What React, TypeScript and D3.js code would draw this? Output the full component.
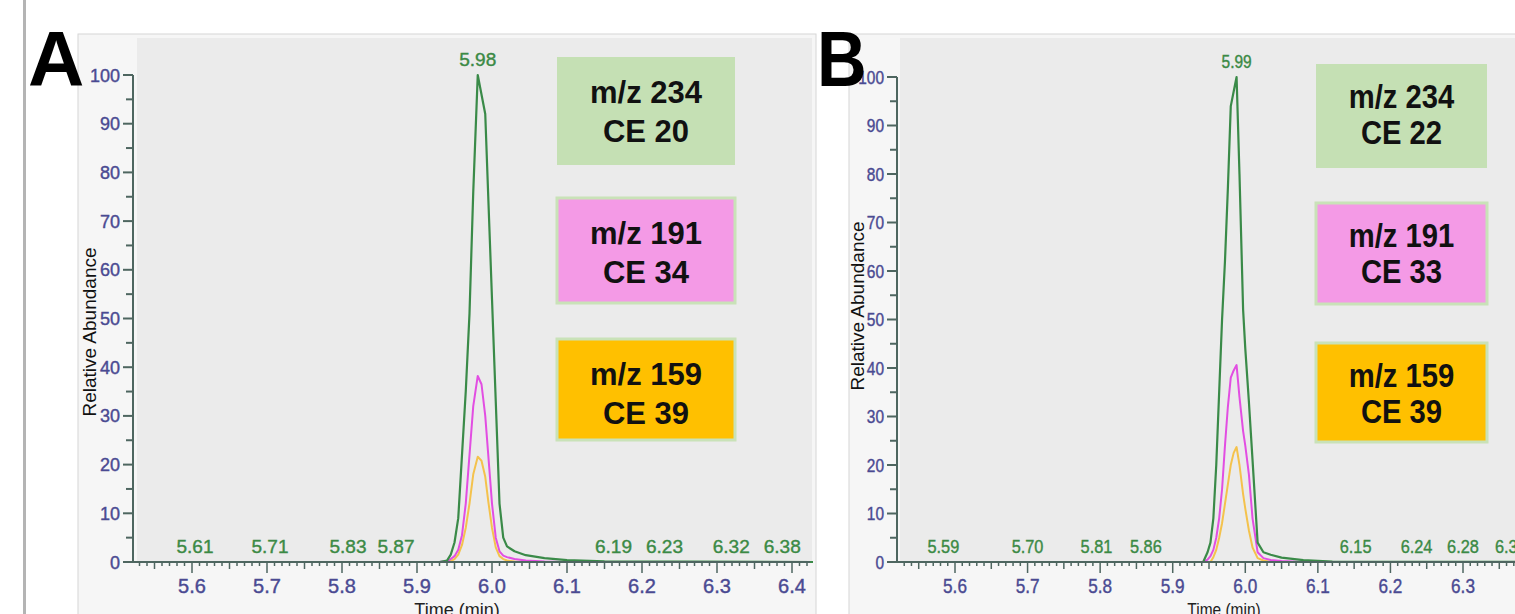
import * as d3 from 'd3';

// ---- data ----
const timesA = [5.52, 5.93, 5.94, 5.945, 5.95, 5.955, 5.96, 5.965, 5.97, 5.975, 5.981, 5.986, 5.991, 5.995, 6.0, 6.005, 6.01, 6.015, 6.02, 6.03, 6.045, 6.07, 6.1, 6.15, 6.43];
const green234A = [0, 0, 0.3, 1.5, 4, 9, 22, 35, 51, 76, 100, 96, 92, 75, 54, 33, 12, 5, 3.2, 2.2, 1.4, 0.8, 0.4, 0.15, 0];
const pink191A = [0, 0, 0.2, 0.6, 1.2, 2.5, 5.5, 12, 22, 32, 38.2, 36.5, 30, 22, 12, 5, 2.2, 1.3, 1, 0.6, 0.3, 0.1, 0, 0, 0];
const orange159A = [0, 0, 0, 0.2, 0.6, 1.5, 3.5, 7, 12, 18, 21.6, 20.8, 17.5, 12.5, 7, 3, 1.2, 0.6, 0.3, 0.1, 0, 0, 0, 0, 0];

const timesB = [5.52, 5.935, 5.942, 5.948, 5.952, 5.956, 5.96, 5.964, 5.968, 5.972, 5.976, 5.98, 5.984, 5.988, 5.992, 5.997, 6.0, 6.005, 6.01, 6.017, 6.025, 6.035, 6.05, 6.08, 6.12, 6.43];
const green234B = [0, 0, 0, 2, 4, 9, 20, 35, 50, 62, 77, 94, 97, 100, 80, 52, 44, 33, 21, 4, 2, 1.5, 0.9, 0.4, 0.1, 0];
const pink191B = [0, 0, 0, 0.5, 1.2, 2.5, 5, 9, 15, 24, 32, 38, 39.5, 40.6, 34, 27, 24, 18, 9, 2, 0.8, 0.4, 0.2, 0, 0, 0];
const orange159B = [0, 0, 0, 0, 0, 1, 2.5, 5, 8, 12, 16, 20, 22.5, 23.7, 20, 14, 11, 6.5, 3, 0.8, 0.3, 0, 0, 0, 0, 0];

// retention time labels: text and the time they sit at
const peakTextA = ['5.61', '5.71', '5.83', '5.87', '6.19', '6.23', '6.32', '6.38'];
const peakTimeA = [5.604, 5.704, 5.808, 5.872, 6.162, 6.23, 6.319, 6.387];
const apexTextA = '5.98';
const apexTimeA = 5.981;

const peakTextB = ['5.59', '5.70', '5.81', '5.86', '6.15', '6.24', '6.28', '6.36'];
const peakTimeB = [5.584, 5.70, 5.795, 5.863, 6.152, 6.236, 6.30, 6.366];
const apexTextB = '5.99';
const apexTimeB = 5.988;

const boxTextA = [['m/z 234', 'CE 20'], ['m/z 191', 'CE 34'], ['m/z 159', 'CE 39']];
const boxTextB = [['m/z 234', 'CE 22'], ['m/z 191', 'CE 33'], ['m/z 159', 'CE 39']];

const yTicks = [0, 10, 20, 30, 40, 50, 60, 70, 80, 90, 100];
const xTicksA = [5.6, 5.7, 5.8, 5.9, 6.0, 6.1, 6.2, 6.3, 6.4];
const xTicksB = [5.6, 5.7, 5.8, 5.9, 6.0, 6.1, 6.2, 6.3];

const lineColors = ['#3a8a48', '#e24ee2', '#f4c24c'];
const boxFills = ['#c5e0b4', '#f49ae6', '#ffc000'];
const FONT = 'Liberation Sans, Arial, sans-serif';

const Panel = ({ id, letter, times, series, peakText, peakTime, apexText, apexTime, boxText, xTicks, L }) => {
  const x = d3.scaleLinear().domain(L.xDomain).range(L.xRange);
  const y = d3.scaleLinear().domain([0, 100]).range(L.yRange);
  const axisY = y(0);
  const line = d3.line().x(d => x(d[0])).y(d => y(d[1]));

  const tStart = x.invert(L.axisX);
  const tEnd = x.invert(L.axisEnd);
  const minor = d3.range(Math.ceil(tStart * 100), Math.floor(tEnd * 100) + 1);
  const minorY = d3.range(5, 100, 10);
  const sx = L.condense;

  return (
    <g>
      <rect x={L.frameLeft} y={L.frameTop} width={L.frameRight - L.frameLeft} height={700} fill="#f6f6f6" stroke="#d6d6d6" />
      <rect x={L.plotLeft} y={L.plotTop} width={L.plotRight - L.plotLeft} height={axisY - L.plotTop} fill="#ebebeb" />
      <clipPath id={`clip-${id}`}>
        <rect x={L.axisX + 1} y={L.plotTop} width={L.plotRight - L.axisX} height={axisY - L.plotTop + 1} />
      </clipPath>

      {/* annotation boxes */}
      {boxText.map((lines, i) => (
        <g key={i}>
          <rect x={L.boxX} y={L.boxY[i]} width={L.boxW} height={L.boxH[i]} fill={boxFills[i]}
            stroke={i === 0 ? 'none' : '#c9e2b8'} strokeWidth={3} />
          {lines.map((t, j) => (
            <text key={j} transform={`translate(${L.boxX + L.boxW / 2},${L.boxY[i] + L.lineBase[j]}) scale(${sx},1)`}
              textAnchor="middle" fontFamily={FONT} fontWeight="bold" fontSize={L.boxFont} fill="#111">{t}</text>
          ))}
        </g>
      ))}

      {/* traces */}
      <g clipPath={`url(#clip-${id})`}>
        {[2, 1, 0].map(k => (
          <path key={k} d={line(times.map((t, i) => [t, series[k][i]]))} fill="none"
            stroke={lineColors[k]} strokeWidth={k === 0 ? 2.2 : 2} strokeLinejoin="round" />
        ))}
      </g>

      {/* y axis */}
      <line x1={L.axisX} x2={L.axisX} y1={y(100)} y2={axisY} stroke="#4e6660" strokeWidth={2} />
      {yTicks.map(v => (
        <g key={v}>
          <line x1={L.axisX - 10} x2={L.axisX} y1={y(v)} y2={y(v)} stroke="#4e6660" strokeWidth={2} />
          <text transform={`translate(${L.axisX - 13},${y(v) + 6.5}) scale(${sx},1)`} textAnchor="end"
            fontFamily={FONT} fontSize={18} fill="#4a4a92" stroke="#4a4a92" strokeWidth={0.4}>{v}</text>
        </g>
      ))}
      {minorY.map(v => (
        <line key={v} x1={L.axisX - 7} x2={L.axisX} y1={y(v)} y2={y(v)} stroke="#4e6660" strokeWidth={2} />
      ))}

      {/* x axis */}
      <line x1={L.axisX} x2={L.axisEnd} y1={axisY} y2={axisY} stroke="#4e6660" strokeWidth={2} />
      {minor.map(k => {
        const len = k % 10 === 0 ? 11 : k % 5 === 0 ? 7 : 4;
        return <line key={k} x1={x(k / 100)} x2={x(k / 100)} y1={axisY} y2={axisY + len} stroke="#4e6660" strokeWidth={1.5} />;
      })}
      {xTicks.map(t => (
        <text key={t} transform={`translate(${x(t)},${axisY + 31}) scale(${sx},1)`} textAnchor="middle"
          fontFamily={FONT} fontSize={20} fill="#4a4a92" stroke="#4a4a92" strokeWidth={0.4}>{t.toFixed(1)}</text>
      ))}

      {/* retention time labels */}
      {peakText.map((t, i) => (
        <text key={t + i} transform={`translate(${x(peakTime[i])},${axisY - 9}) scale(${sx},1)`} textAnchor="middle"
          fontFamily={FONT} fontSize={19} fill="#3b8a45" stroke="#3b8a45" strokeWidth={0.4}>{t}</text>
      ))}
      <text transform={`translate(${x(apexTime)},${y(100) - 9}) scale(${sx},1)`} textAnchor="middle"
        fontFamily={FONT} fontSize={L.apexFont} fill="#3b8a45" stroke="#3b8a45" strokeWidth={0.4}>{apexText}</text>

      {/* axis titles */}
      <text transform={`translate(${L.yTitleX},${L.yTitleY}) rotate(-90)`} textAnchor="middle"
        fontFamily={FONT} fontSize={19} fill="#111">Relative Abundance</text>
      <text transform={`translate(${L.xTitleX},${axisY + 54}) scale(${sx},1)`} textAnchor="middle"
        fontFamily={FONT} fontSize={18} fill="#222">Time (min)</text>

      {/* panel letter */}
      <text transform={`translate(${L.letterX},${L.letterY}) scale(${L.letterScale},1)`} fontFamily={FONT}
        fontWeight="bold" fontSize={78} fill="#000">{letter}</text>
    </g>
  );
};

const layoutA = {
  frameLeft: 78, frameRight: 816, frameTop: 34, plotLeft: 137, plotRight: 812, plotTop: 38,
  axisX: 133, axisEnd: 810, xDomain: [5.6, 6.4], xRange: [192, 792], yRange: [562, 75],
  boxX: 557, boxW: 178, boxY: [57, 198, 339], boxH: [108, 105, 101], lineBase: [46, 85], boxFont: 31,
  condense: 1, apexFont: 19, yTitleX: 96, yTitleY: 332, xTitleX: 457,
  letterX: 28, letterY: 86, letterScale: 1,
};

const layoutB = {
  frameLeft: 849, frameRight: 1530, frameTop: 34, plotLeft: 900, plotRight: 1530, plotTop: 38,
  axisX: 897, axisEnd: 1530, xDomain: [5.6, 6.3], xRange: [955, 1463], yRange: [562, 77],
  boxX: 1316, boxW: 171, boxY: [64, 203, 343], boxH: [104, 101, 99], lineBase: [44, 80], boxFont: 34,
  condense: 0.86, apexFont: 18, yTitleX: 864, yTitleY: 306, xTitleX: 1224,
  letterX: 817, letterY: 86, letterScale: 0.88,
};

export default function App() {
  return (
    <svg width={1515} height={614} style={{ position: 'absolute', left: 0, top: 0, background: '#fff' }}>
      <rect width={1515} height={614} fill="#fff" />
      <line x1={24.5} x2={24.5} y1={0} y2={614} stroke="#b4b4b4" strokeWidth={3} />
      <Panel id="a" letter="A" times={timesA} series={[green234A, pink191A, orange159A]}
        peakText={peakTextA} peakTime={peakTimeA} apexText={apexTextA} apexTime={apexTimeA}
        boxText={boxTextA} xTicks={xTicksA} L={layoutA} />
      <Panel id="b" letter="B" times={timesB} series={[green234B, pink191B, orange159B]}
        peakText={peakTextB} peakTime={peakTimeB} apexText={apexTextB} apexTime={apexTimeB}
        boxText={boxTextB} xTicks={xTicksB} L={layoutB} />
    </svg>
  );
}
